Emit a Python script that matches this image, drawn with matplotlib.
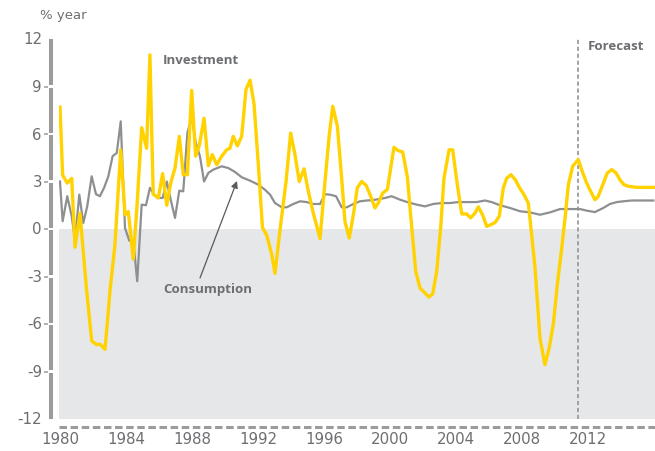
import matplotlib
matplotlib.use("Agg")
import matplotlib.pyplot as plt
from matplotlib.lines import Line2D

plt.rcParams['lines.scale_dashes'] = False

# ---------------- data ----------------
inv_years = [1980.0, 1980.16, 1980.44, 1980.71, 1980.91, 1981.21, 1981.58, 1981.92, 1982.22, 1982.42,
             1982.73, 1983.03, 1983.33, 1983.68, 1983.94, 1984.14, 1984.44, 1984.67, 1984.95, 1985.25,
             1985.45, 1985.65, 1985.96, 1986.22, 1986.47, 1986.71, 1986.97, 1987.23, 1987.47, 1987.72,
             1987.98, 1988.22, 1988.45, 1988.73, 1988.99, 1989.23, 1989.5, 1989.8, 1990.1, 1990.3,
             1990.5, 1990.75, 1991.01, 1991.27, 1991.52, 1991.76, 1992.02, 1992.27, 1992.53, 1992.83,
             1993.03, 1993.33, 1993.7, 1993.98, 1994.24, 1994.5, 1994.79, 1995.05, 1995.35, 1995.76,
             1996.06, 1996.32, 1996.53, 1996.81, 1997.07, 1997.27, 1997.53, 1997.78, 1998.02, 1998.28,
             1998.55, 1998.79, 1999.09, 1999.29, 1999.56, 1999.84, 2000.24, 2000.5, 2000.77, 2001.05,
             2001.32, 2001.56, 2001.82, 2002.12, 2002.36, 2002.59, 2002.83, 2003.07, 2003.27, 2003.58,
             2003.8, 2004.08, 2004.35, 2004.65, 2004.89, 2005.15, 2005.35, 2005.61, 2005.86, 2006.1,
             2006.36, 2006.62, 2006.87, 2007.07, 2007.33, 2007.6, 2007.85, 2008.12, 2008.38, 2008.48,
             2008.79, 2009.09, 2009.39, 2009.65, 2009.9, 2010.14, 2010.41, 2010.61, 2010.81, 2011.07,
             2011.41, 2011.65, 2011.92, 2012.16, 2012.42, 2012.62, 2012.93, 2013.17, 2013.44, 2013.7,
             2013.94, 2014.18, 2014.44, 2014.95, 2015.96]
inv_values = [7.7, 3.4, 2.9, 3.2, -1.15, 1.0, -3.5, -7.07, -7.3, -7.27,
              -7.6, -3.9, -1.0, 5.0, 0.9, 1.1, -1.9, 1.5, 6.4, 5.1,
              11.0, 2.2, 1.96, 3.5, 1.5, 2.9, 3.85, 5.85, 3.43, 3.43,
              8.75, 4.6, 5.3, 7.0, 4.0, 4.7, 4.06, 4.6, 5.0, 5.1,
              5.85, 5.25, 5.85, 8.8, 9.4, 7.9, 4.06, 0.1, -0.4, -1.6,
              -2.8, -0.1, 3.0, 6.06, 4.7, 3.0, 3.8, 2.38, 1.0, -0.6,
              3.0, 5.96, 7.75, 6.5, 3.2, 0.48, -0.57, 0.9, 2.6, 3.0,
              2.76, 2.17, 1.33, 1.64, 2.27, 2.5, 5.16, 4.95, 4.86, 3.3,
              0.06, -2.67, -3.73, -4.04, -4.3, -4.1, -2.67, 0.06, 3.2, 5.0,
              5.0, 2.8, 0.95, 0.95, 0.7, 1.0, 1.4, 0.9, 0.17, 0.27,
              0.4, 0.8, 2.6, 3.2, 3.43, 3.1, 2.6, 2.17, 1.64, 0.7,
              -2.46, -6.9, -8.57, -7.5, -6.0, -3.5, -1.2, 0.7, 2.8, 3.96,
              4.38, 3.64, 2.9, 2.38, 1.85, 2.06, 2.9, 3.54, 3.75, 3.54,
              3.1, 2.8, 2.7, 2.63, 2.63]

con_years = [1980.0, 1980.16, 1980.44, 1980.71, 1980.91, 1981.17, 1981.41, 1981.65, 1981.92, 1982.18,
             1982.42, 1982.67, 1982.93, 1983.19, 1983.44, 1983.68, 1983.94, 1984.2, 1984.44, 1984.68,
             1984.95, 1985.21, 1985.45, 1985.7, 1985.96, 1986.22, 1986.47, 1986.71, 1986.97, 1987.23,
             1987.47, 1987.72, 1987.98, 1988.22, 1988.48, 1988.73, 1988.99, 1989.29, 1989.8, 1990.2,
             1990.61, 1991.01, 1991.52, 1992.02, 1992.42, 1992.73, 1993.03, 1993.44, 1993.74, 1994.14,
             1994.55, 1994.95, 1995.35, 1995.76, 1996.06, 1996.36, 1996.73, 1997.07, 1997.38, 1997.78,
             1998.18, 1998.59, 1998.99, 1999.39, 1999.7, 2000.1, 2000.61, 2001.11, 2001.62, 2002.12,
             2002.62, 2003.13, 2003.64, 2004.14, 2004.65, 2005.25, 2005.76, 2006.16, 2006.67, 2007.27,
             2007.88, 2008.48, 2009.09, 2009.7, 2010.3, 2010.91, 2011.52, 2011.92, 2012.42, 2012.93,
             2013.33, 2013.74, 2014.14, 2014.65, 2015.96]
con_values = [3.0, 0.49, 2.07, 0.8, -0.67, 2.17, 0.38, 1.43, 3.33, 2.2,
              2.07, 2.6, 3.33, 4.6, 4.8, 6.8, 0.06, -0.74, -0.74, -3.3,
              1.54, 1.5, 2.6, 2.17, 1.96, 1.96, 3.0, 1.85, 0.7, 2.42,
              2.38, 6.06, 7.1, 5.5, 4.6, 3.0, 3.54, 3.75, 3.96, 3.85,
              3.6, 3.27, 3.05, 2.8, 2.48, 2.17, 1.64, 1.37, 1.37, 1.58,
              1.75, 1.7, 1.58, 1.58, 2.2, 2.17, 2.07, 1.37, 1.37, 1.58,
              1.75, 1.8, 1.83, 1.9, 1.96, 2.07, 1.85, 1.68, 1.54, 1.43,
              1.58, 1.64, 1.64, 1.7, 1.7, 1.7, 1.8, 1.7, 1.5, 1.33,
              1.12, 1.05, 0.9, 1.05, 1.26, 1.26, 1.26, 1.16, 1.07, 1.33,
              1.58, 1.7, 1.75, 1.8, 1.8]

y_ticks = [12, 9, 6, 3, 0, -3, -6, -9, -12]
y_tick_labels = ["12", "9", "6", "3", "0", "-3", "-6", "-9", "-12"]
x_ticks = [1980, 1984, 1988, 1992, 1996, 2000, 2004, 2008, 2012]
x_tick_labels = ["1980", "1984", "1988", "1992", "1996", "2000", "2004", "2008", "2012"]
forecast_year = 2011.39

# ---------------- style ----------------
YELLOW = "#FFD200"
GREY_LINE = "#8E8F92"
AXIS_GREY = "#9B9B9B"
TEXT_GREY = "#6D6E71"
SHADE = "#E6E7E8"

W, H = 655, 452
fig = plt.figure(figsize=(W / 100, H / 100), dpi=100)

px_per_year = 16.5
x0_px = 60.0  # pixel position of 1980
ax_left, ax_right = 59.0, 655.0
ax_top, ax_bottom = 40.0, 420.0
ax = fig.add_axes([ax_left / W, 1 - ax_bottom / H, (ax_right - ax_left) / W, (ax_bottom - ax_top) / H])
xmin = 1980 + (ax_left - x0_px) / px_per_year
xmax = 1980 + (ax_right - x0_px) / px_per_year
ax.set_xlim(xmin, xmax)
ax.set_ylim(-12, 12)
ax.axis("off")

# shading below zero
ax.axhspan(-12, 0, color=SHADE, zorder=0, lw=0)

# forecast line
ax.axvline(forecast_year, ymin=0, ymax=1, color=AXIS_GREY, lw=1.3, dashes=(3, 2), zorder=1)

# series
ax.plot(con_years, con_values, color=GREY_LINE, lw=1.6, zorder=2, solid_joinstyle="round")
ax.plot(inv_years, inv_values, color=YELLOW, lw=2.4, zorder=3, solid_joinstyle="round")

# y axis: thick grey segments with gaps at ticks, plus small ticks on the left
px_per_unit = (ax_bottom - ax_top) / 24.0
gap = 1.3 / px_per_unit
yax_x = 1980 + (51.3 - x0_px) / px_per_year
for a, b in zip(y_ticks[1:], y_ticks[:-1]):
    lo = a + gap if a != -12 else a
    hi = b - gap if b != 12 else b
    ax.add_line(Line2D([yax_x, yax_x], [lo, hi], color=AXIS_GREY, lw=2.9,
                       solid_capstyle="butt", clip_on=False))
tick_x0 = 1980 + (44.0 - x0_px) / px_per_year
tick_x1 = 1980 + (48.5 - x0_px) / px_per_year
for v in y_ticks[1:-1]:
    ax.add_line(Line2D([tick_x0, tick_x1], [v, v], color=AXIS_GREY, lw=1.1,
                       solid_capstyle="butt", clip_on=False))

# bottom dashed axis
yb = -12 - (428.0 - ax_bottom) / px_per_unit
ax.add_line(Line2D([xmin, xmax], [yb, yb], color=AXIS_GREY, lw=2.2, dashes=(5.4, 2.6),
                   dash_capstyle="butt", clip_on=False))

# tick labels
font = "DejaVu Sans"
lab_x = 1980 + (42.0 - x0_px) / px_per_year
for v, lab in zip(y_ticks, y_tick_labels):
    ax.text(lab_x, v, lab, ha="right", va="center", fontsize=10.8, color=TEXT_GREY,
            family=font, clip_on=False)
xl_y = -12 - (440.0 - ax_bottom) / px_per_unit
for t, lab in zip(x_ticks, x_tick_labels):
    ax.text(t, xl_y, lab, ha="center", va="center", fontsize=10.8, color=TEXT_GREY,
            family=font, clip_on=False)

fig.text(40 / W, 1 - 16 / H, "% year", ha="left", va="center", fontsize=9.5,
         color=TEXT_GREY, family=font)

bold = "Open Sans"
fig.text(163 / W, 1 - 61 / H, "Investment", ha="left", va="center", fontsize=9.5,
         color=TEXT_GREY, family=bold, fontweight="bold")
fig.text(163 / W, 1 - 290 / H, "Consumption", ha="left", va="center", fontsize=9.5,
         color=TEXT_GREY, family=bold, fontweight="bold")
fig.text(588 / W, 1 - 46 / H, "Forecast", ha="left", va="center", fontsize=9.5,
         color=TEXT_GREY, family=bold, fontweight="bold")

# arrow to consumption line
tail = (1980 + (200 - x0_px) / px_per_year, (231 - 280) / px_per_unit)
head = (1980 + (237 - x0_px) / px_per_year, (231 - 183) / px_per_unit)
ax.annotate("", xy=head, xytext=tail,
            arrowprops=dict(arrowstyle="-|>", color="#58595B", lw=0.9,
                            mutation_scale=10, shrinkA=0, shrinkB=0),
            annotation_clip=False, zorder=4)

fig.savefig("out.png", dpi=100)
